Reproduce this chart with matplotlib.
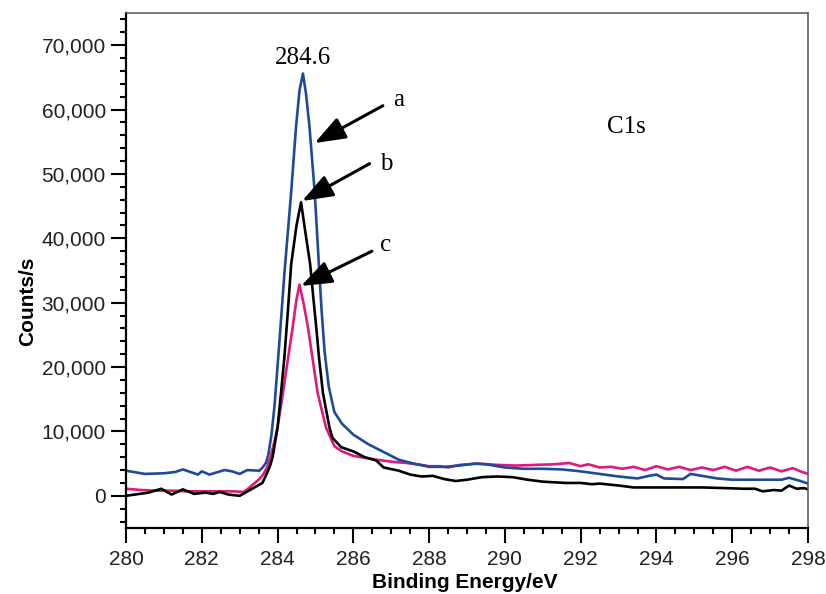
import matplotlib
matplotlib.use("Agg")
import matplotlib.pyplot as plt
import matplotlib.ticker as mticker

# C1s XPS spectra (binding energy eV, counts/s)
a_energy = [280.0, 280.5, 281.0, 281.3, 281.5, 281.9, 282.0, 282.2, 282.6, 282.8, 283.0,
            283.2, 283.52, 283.62, 283.7, 283.76, 283.84, 283.92, 284.05, 284.18, 284.36,
            284.49, 284.58, 284.67, 284.75, 284.84, 284.98, 285.08, 285.16, 285.24, 285.35,
            285.5, 285.7, 286.0, 286.4, 286.8, 287.2, 287.6, 288.0, 288.4, 288.8, 289.2,
            289.5, 290.0, 290.5, 291.0, 291.5, 292.0, 292.5, 293.0, 293.5, 293.8, 294.0,
            294.2, 294.7, 294.9, 295.2, 295.6, 296.0, 296.5, 297.0, 297.3, 297.5, 297.8,
            298.0]
a_counts = [3900, 3400, 3500, 3700, 4100, 3300, 3800, 3300, 4000, 3800, 3400,
            4000, 3900, 4500, 5200, 6500, 9500, 14000, 24000, 34500, 47200,
            57500, 63000, 65600, 62500, 57500, 47200, 37000, 29000, 22500, 17000,
            13000, 11200, 9500, 8000, 6800, 5600, 5000, 4500, 4500, 4700, 5000,
            4900, 4400, 4200, 4200, 4100, 3800, 3400, 3000, 2700, 3100, 3300,
            2700, 2600, 3400, 3100, 2700, 2500, 2500, 2500, 2500, 2800, 2300,
            1900]

b_energy = [280.0, 280.6, 280.93, 281.2, 281.5, 281.8, 282.1, 282.3, 282.47, 282.7, 283.0,
            283.33, 283.6, 283.72, 283.8, 283.87, 283.94, 284.0, 284.09, 284.18, 284.27,
            284.36, 284.5, 284.62, 284.75, 284.86, 284.94, 285.02, 285.1, 285.2, 285.37,
            285.45, 285.68, 286.0, 286.3, 286.6, 286.8, 287.2, 287.5, 287.8, 288.1, 288.4,
            288.7, 289.0, 289.4, 289.8, 290.2, 290.6, 291.0, 291.6, 292.0, 292.3, 292.5,
            293.0, 293.4, 294.0, 294.6, 295.2, 295.8, 296.3, 296.6, 296.8, 297.1, 297.3,
            297.5, 297.7, 297.9, 298.0]
b_counts = [0, 500, 1100, 200, 1000, 300, 500, 300, 600, 200, 0,
            1100, 2000, 3500, 4600, 6000, 8500, 10600, 15900, 21500, 28500,
            36000, 42000, 45600, 40300, 36000, 31000, 26250, 21100, 15900, 10600,
            9000, 7550, 6900, 6000, 5500, 4400, 3900, 3300, 3000, 3100, 2600,
            2300, 2500, 2900, 3000, 2900, 2500, 2200, 2000, 2000, 1800, 1900,
            1600, 1300, 1300, 1300, 1300, 1200, 1100, 1100, 700, 900, 800,
            1600, 1100, 1200, 1000]

c_energy = [280.0, 280.4, 280.8, 281.2, 281.6, 282.0, 282.4, 282.8, 283.12, 283.3, 283.5,
            283.62, 283.72, 283.8, 283.9, 284.0, 284.14, 284.27, 284.4, 284.5, 284.58,
            284.7, 284.8, 284.93, 285.06, 285.28, 285.5, 285.7, 286.0, 286.5, 287.0,
            287.4, 287.8, 288.0, 288.3, 288.5, 288.8, 289.3, 289.8, 290.3, 290.8, 291.3,
            291.7, 292.0, 292.2, 292.5, 292.8, 293.1, 293.4, 293.7, 294.0, 294.3, 294.6,
            294.9, 295.2, 295.5, 295.8, 296.1, 296.4, 296.7, 297.0, 297.3, 297.6, 297.8,
            298.0]
c_counts = [1100, 900, 800, 800, 700, 700, 700, 700, 600, 1500, 2500,
            3300, 4400, 5700, 8000, 10600, 15900, 21100, 26250, 30500, 32800,
            29500, 26250, 21100, 15900, 10600, 7700, 6900, 6200, 5700, 5300,
            5100, 4800, 4600, 4600, 4400, 4800, 5000, 4800, 4700, 4800, 4900,
            5100, 4600, 4900, 4400, 4500, 4200, 4500, 4000, 4600, 4100, 4500,
            4000, 4400, 4000, 4500, 3900, 4500, 3900, 4400, 3800, 4300, 3800,
            3400]

# arrow tip, arrow tail, label position and text
arrow_tips = [(284.98, 54800), (284.65, 45800), (284.62, 32600)]
arrow_tails = [(286.78, 60600), (286.43, 51600), (286.49, 38000)]
arrow_labels = ["a", "b", "c"]
label_pos = [(287.2, 61500), (286.88, 51600), (286.86, 39000)]

SANS = "Liberation Sans"
SERIF = "Liberation Serif"

fig = plt.figure(figsize=(8.26, 5.94), dpi=100)
ax = fig.add_axes([126 / 826, 1 - 528 / 594, 682 / 826, 515 / 594])

ax.plot(c_energy, c_counts, color="#e0197b", lw=1.9, solid_joinstyle="round")
ax.plot(b_energy, b_counts, color="black", lw=1.9, solid_joinstyle="round")
ax.plot(a_energy, a_counts, color="#1f4a9a", lw=1.9, solid_joinstyle="round")

ax.set_xlim(280, 298)
ax.set_ylim(-5000, 75000)
ax.xaxis.set_major_locator(mticker.MultipleLocator(2))
ax.xaxis.set_minor_locator(mticker.MultipleLocator(0.5))
ax.yaxis.set_major_locator(mticker.MultipleLocator(10000))
ax.yaxis.set_minor_locator(mticker.MultipleLocator(2000))
ax.yaxis.set_major_formatter(mticker.StrMethodFormatter("{x:,.0f}"))
ax.xaxis.set_major_formatter(mticker.StrMethodFormatter("{x:.0f}"))

ax.tick_params(which="major", length=10.5, width=1.5, direction="out", labelsize=15, pad=4)
ax.tick_params(which="minor", length=4.5, width=1.5, direction="out")
ax.tick_params(axis="x", pad=5)
for lab in ax.get_xticklabels() + ax.get_yticklabels():
    lab.set_fontfamily(SANS)
    lab.set_color("#222222")

for side in ("left", "bottom"):
    ax.spines[side].set_linewidth(1.6)
    ax.spines[side].set_color("black")
for side in ("top", "right"):
    ax.spines[side].set_linewidth(1.1)
    ax.spines[side].set_color("#555555")

ax.set_xlabel("Binding Energy/eV", fontsize=15, fontweight="bold", family=SANS)
ax.set_ylabel("Counts/s", fontsize=15, fontweight="bold", family=SANS)
ax.xaxis.set_label_coords(0.497, -0.088)
ax.yaxis.set_label_coords(-0.13, 0.44)

ax.text(284.66, 68000, "284.6", fontsize=18, family=SERIF, ha="center", va="center")
ax.text(293.2, 57300, "C1s", fontsize=18, family=SERIF, ha="center", va="center")

for tip, tail, lab, pos in zip(arrow_tips, arrow_tails, arrow_labels, label_pos):
    ax.annotate("", xy=tip, xytext=tail,
                arrowprops=dict(arrowstyle="-|>,head_length=0.75,head_width=0.28",
                                mutation_scale=25, lw=2.2, color="black",
                                shrinkA=0, shrinkB=0))
    ax.text(pos[0], pos[1], lab, fontsize=18, family=SERIF, ha="center", va="center")

fig.savefig("out.png", dpi=100)
